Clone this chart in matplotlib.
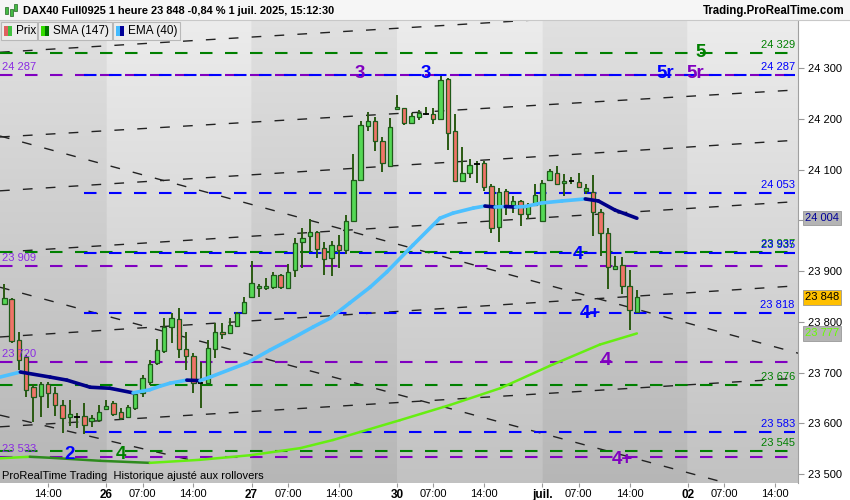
import matplotlib
matplotlib.use("Agg")
import matplotlib.pyplot as plt
import matplotlib.transforms as mtransforms
import numpy as np
from matplotlib.collections import LineCollection
from matplotlib.patches import Rectangle
from matplotlib.ticker import FuncFormatter

plt.rcParams['font.family'] = ['Liberation Sans', 'DejaVu Sans']

# ---- candles (1 hour bars, x = bar number) ----
bar_idx = list(range(2, 90))
opens = [23835, 23844, 23764, 23730, 23672, 23653, 23677, 23659, 23636, 23612,
         23612, 23615, 23604, 23606, 23628, 23640, 23622, 23612, 23631, 23659,
         23681, 23719, 23743, 23790, 23805, 23746, 23733, 23680, 23679, 23746,
         23780, 23778, 23792, 23818, 23849, 23866, 23866, 23868, 23892, 23866,
         23902, 23957, 23969, 23976, 23945, 23926, 23951, 23941, 23999, 24079,
         24186, 24196, 24156, 24107, 24219, 24221, 24191, 24204, 24209, 24209,
         24200, 24278, 24176, 24078, 24093, 24111, 24112, 24067, 23986, 24058,
         24029, 24037, 24012, 24031, 23999, 24080, 24094, 24073, 24078, 24076,
         24057, 24055, 24017, 23974, 23903, 23912, 23870, 23820]
highs = [23874, 23847, 23780, 23734, 23678, 23682, 23682, 23671, 23646, 23645,
         23620, 23640, 23617, 23636, 23646, 23644, 23630, 23636, 23664, 23695,
         23725, 23767, 23807, 23817, 23827, 23779, 23738, 23720, 23765, 23797,
         23798, 23807, 23820, 23848, 23919, 23874, 23886, 23898, 23894, 23914,
         23965, 23984, 24002, 23979, 23958, 23959, 23971, 24010, 24130, 24196,
         24213, 24204, 24165, 24202, 24247, 24222, 24211, 24217, 24223, 24221,
         24284, 24280, 24209, 24145, 24120, 24117, 24117, 24072, 24063, 24061,
         24047, 24039, 24034, 24072, 24079, 24101, 24106, 24091, 24085, 24093,
         24072, 24090, 24022, 23984, 23930, 23927, 23902, 23863]
lows = [23835, 23758, 23705, 23651, 23602, 23613, 23630, 23614, 23581, 23595,
        23590, 23579, 23593, 23603, 23626, 23615, 23607, 23610, 23626, 23652,
        23675, 23715, 23738, 23759, 23728, 23704, 23659, 23630, 23676, 23728,
        23767, 23776, 23790, 23815, 23848, 23848, 23863, 23864, 23865, 23865,
        23888, 23905, 23938, 23926, 23892, 23890, 23905, 23933, 23997, 24077,
        24176, 24136, 24096, 24104, 24217, 24187, 24189, 24198, 24208, 24190,
        24198, 24138, 24075, 24077, 24084, 24073, 24058, 23974, 23958, 24010,
        24014, 23989, 24002, 24030, 23997, 24080, 24070, 24048, 24071, 24063,
        24051, 23969, 23930, 23864, 23901, 23855, 23784, 23818]
closes = [23846, 23762, 23725, 23666, 23651, 23677, 23659, 23636, 23610, 23618,
          23612, 23596, 23610, 23622, 23634, 23619, 23610, 23633, 23657, 23689,
          23717, 23744, 23790, 23807, 23746, 23733, 23679, 23680, 23748, 23779,
          23776, 23794, 23817, 23838, 23876, 23870, 23870, 23892, 23868, 23898,
          23955, 23966, 23976, 23943, 23923, 23951, 23941, 23999, 24079, 24188,
          24196, 24156, 24112, 24183, 24223, 24191, 24205, 24211, 24209, 24200,
          24276, 24171, 24077, 24093, 24109, 24111, 24066, 23984, 24055, 24030,
          24037, 24012, 24031, 24049, 24073, 24098, 24071, 24078, 24078, 24065,
          24064, 24017, 23974, 23907, 23910, 23870, 23823, 23848]

# ---- indicators ----
ema_idx = [1.4, 4.2, 8.3, 10.6, 13.8, 16.5, 19.7, 22.0, 23.4, 24.8, 27.1, 28.9,
           30.3, 35.4, 38.5, 41.7, 44.5, 46.8, 49.5, 52.3, 54.6, 58.2, 61.9,
           63.7, 66.5, 68.1, 69.5, 70.9, 72.3, 73.6, 75.9, 78.7, 81.9, 83.7,
           86.0, 89.0]
ema_val = [23691, 23701, 23691, 23685, 23671, 23669, 23660, 23666, 23673, 23679,
           23685, 23684, 23691, 23719, 23744, 23768, 23790, 23807, 23837, 23868,
           23898, 23951, 24004, 24014, 24024, 24028, 24026, 24027, 24026, 24027,
           24034, 24038, 24042, 24038, 24020, 24004]
sma_idx = [1.4, 5.5, 8.3, 15.2, 22.0, 28.9, 35.8, 42.7, 47.2, 56.4, 63.3, 70.2,
           77.0, 83.9, 89.0]
sma_val = [23531, 23534, 23532, 23526, 23522, 23528, 23537, 23551, 23567, 23606,
           23636, 23669, 23713, 23755, 23777]

# ---- horizontal levels ----
level_vals = [24329, 24287, 24287, 24053, 23937, 23935, 23909, 23818, 23720,
              23676, 23583, 23545, 23533]
level_kind = ['g', 'p', 'b', 'b', 'g', 'b', 'p', 'b', 'p', 'g', 'b', 'g', 'p']

# ---- trend lines: (bar, price) -> (bar, price) ----
trend_lines = [(1.4, 24331, 111.2, 24426), (1.4, 24164, 111.2, 24257),
               (1.4, 24058, 111.2, 24158), (1.4, 23937, 111.2, 24037),
               (1.4, 23770, 111.2, 23871), (1.4, 23593, 111.2, 23689),
               (1.4, 24166, 111.2, 23738), (1.4, 23868, 111.2, 23444),
               (1.4, 23616, 29.0, 23523)]

# ---- wave labels ----
wave_txt = ['3', '3', '5', '5r', '5r', '4', '4+', '4', '4+', '2', '4']
wave_idx = [50.9, 59.9, 97.8, 92.9, 97.0, 80.9, 82.6, 84.8, 87.0, 11.0, 18.0]
wave_val = [24290, 24290, 24331, 24290, 24290, 23933, 23817, 23723, 23528, 23538, 23538]
wave_kind = ['p', 'b', 'g', 'b', 'p', 'b', 'b', 'p', 'p', 'b', 'g']

tick_idx = [8, 16, 21, 28, 36, 41, 48, 56, 61, 68, 76, 81, 88, 96, 101, 108]
tick_lbl = ['14:00', '26', '07:00', '14:00', '27', '07:00', '14:00', '30', '07:00',
            '14:00', 'juil.', '07:00', '14:00', '02', '07:00', '14:00']
day_starts = [16, 36, 56, 76, 96]

COL = {'g': '#008000', 'p': '#8000c0', 'b': '#0000ff'}
GREEN_FILL = '#55d855'
RED_FILL = '#ef7468'
EDGE = '#1f5a1a'

XMIN, XMAX = 1.40, 111.16
YMIN, YMAX = 23482.3, 24392.6

fig = plt.figure(figsize=(8.5, 5), dpi=100)
ax = fig.add_axes([0, 17 / 500, 798 / 850, 462 / 500])
ax.set_xlim(XMIN, XMAX)
ax.set_ylim(YMIN, YMAX)

# background: vertical gradient with alternating day bands
xs = np.linspace(XMIN, XMAX, 800)
grad = np.linspace(0.76, 0.925, 200)[:, None]
band = np.searchsorted(day_starts, xs, side='right') % 2
img = grad - 0.045 * (band == 0)[None, :]
ax.imshow(np.dstack([img, img, img]), extent=[XMIN, XMAX, YMIN, YMAX],
          aspect='auto', origin='lower', zorder=0, interpolation='bilinear')

# trend lines
for x0, y0, x1, y1 in trend_lines:
    ax.plot([x0, x1], [y0, y1], color='#222222', lw=1.0,
            linestyle=(0, (7, 9.5)), zorder=1)

# level lines
blue_start = 13.0
line_end = 110.76
for v, k in zip(level_vals, level_kind):
    start = blue_start if k == 'b' else XMIN
    ax.plot([start, line_end], [v, v], color=COL[k], lw=1.5,
            linestyle=(0, (6, 6)), zorder=2)

# level labels
up = mtransforms.ScaledTranslation(0, 8 / 100, fig.dpi_scale_trans)
tr = mtransforms.blended_transform_factory(ax.transAxes, ax.transData) + up
for v, k in zip(level_vals, level_kind):
    lbl = f"{v:,}".replace(',', ' ')
    if k == 'p':
        ax.text(0.003, v, lbl, transform=tr, color='#8a2be2', fontsize=8,
                ha='left', va='center', zorder=6)
    else:
        ax.text(0.996, v, lbl, transform=tr, color=COL[k], fontsize=8,
                ha='right', va='center', zorder=6)

# candles
for i, o, h, l, c in zip(bar_idx, opens, highs, lows, closes):
    ax.vlines(i, l, h, color='#2a5a12', lw=1.4, zorder=3)
    if o == c:
        ax.hlines(o, i - 0.38, i + 0.38, color='black', lw=1.3, zorder=4)
        continue
    fc = GREEN_FILL if c > o else RED_FILL
    ax.add_patch(Rectangle((i - 0.3, min(o, c)), 0.6, abs(c - o), fc=fc,
                           ec=EDGE, lw=0.9, zorder=4))


def colored_line(xv, yv, up_col, down_col, lw):
    pts = np.column_stack([xv, yv])
    segs = np.stack([pts[:-1], pts[1:]], axis=1)
    cols = [up_col if b >= a else down_col for a, b in zip(yv[:-1], yv[1:])]
    ax.add_collection(LineCollection(segs, colors=cols, linewidths=lw,
                                     capstyle='round', joinstyle='round', zorder=5))


colored_line(sma_idx, sma_val, '#66ee11', '#2e8b1e', 1.8)
colored_line(ema_idx, ema_val, '#4cc0ff', '#000088', 2.6)

# wave labels
for t, i, v, k in zip(wave_txt, wave_idx, wave_val, wave_kind):
    ax.text(i, v, t, color=COL[k], fontsize=13.5, fontweight='bold',
            ha='center', va='center', zorder=7)

ax.text(0.003, 0.016, 'ProRealTime Trading  Historique ajusté aux rollovers',
        transform=ax.transAxes, fontsize=8, color='black', ha='left',
        va='center', zorder=8)

# axes styling
for s in ['top', 'left', 'bottom']:
    ax.spines[s].set_visible(False)
ax.spines['right'].set_color('#a0a0a0')
ax.yaxis.tick_right()
ax.set_yticks(np.arange(23500, 24301, 100))
# the 24 000 label sits under the EMA value box in the original
ax.yaxis.set_major_formatter(FuncFormatter(
    lambda v, p: '' if int(v) == 24000 else f"{int(v):,}".replace(',', ' ')))
ax.tick_params(axis='y', length=4, color='#999999', labelsize=8, pad=3)
ax.set_xticks(tick_idx)
ax.set_xticklabels(tick_lbl)
ax.tick_params(axis='x', length=3, color='#999999', labelsize=8, pad=1)
for lab in ax.get_xticklabels():
    if lab.get_text() in ('26', '27', '30', 'juil.', '02'):
        lab.set_fontweight('bold')
        lab.set_fontsize(8.5)

# value boxes on the right axis
trb = mtransforms.blended_transform_factory(ax.transAxes, ax.transData)
box_vals = [ema_val[-1], closes[-1], sma_val[-1]]
box_fc = ['#b4b4b4', '#ffc000', '#b4b4b4']
box_tc = ['#000099', 'black', '#66ff00']
for v, fc, tc in zip(box_vals, box_fc, box_tc):
    ax.text(1.0088, v, f"{v:,}".replace(',', ' '), transform=trb, fontsize=8,
            color=tc, ha='left', va='center', clip_on=False, zorder=9,
            bbox=dict(boxstyle='square,pad=0.2', fc=fc, ec='#999999', lw=0.6))

# header strip
fig.patches.append(Rectangle((0, 1 - 20 / 500), 1, 20 / 500, transform=fig.transFigure,
                             fc='#f6f6f6', ec='none', zorder=10))
fig.lines.append(plt.Line2D([0, 1], [1 - 20 / 500, 1 - 20 / 500], transform=fig.transFigure,
                            color='#c8c8c8', lw=0.8, zorder=11))
for dx, y0, y1 in [(5, 14, 7), (10, 16, 9), (14, 11, 4)]:
    fig.patches.append(Rectangle((dx / 850, 1 - y0 / 500), 3 / 850, (y0 - y1) / 500,
                                 transform=fig.transFigure, fc='#44bb44', ec='#226622',
                                 lw=0.5, zorder=12))
fig.text(23 / 850, 1 - 11 / 500, 'DAX40 Full0925 1 heure 23 848 -0,84 % 1 juil. 2025, 15:12:30',
         fontsize=7.9, fontweight='bold', ha='left', va='center', zorder=12)
fig.text(845 / 850, 1 - 11 / 500, 'Trading.ProRealTime.com', fontsize=8.3,
         fontweight='bold', ha='right', va='center', zorder=12)

# legend row
legend_items = [('Prix', '#e06060', '#40c040', 1, 37),
                ('SMA (147)', '#33dd00', '#007700', 38, 112),
                ('EMA (40)', '#44bbff', '#000099', 113, 180)]
for name, c1, c2, x0, x1 in legend_items:
    fig.patches.append(Rectangle((x0 / 850, 1 - 40 / 500), (x1 - x0) / 850, 18 / 500,
                                 transform=fig.transFigure, fc='#ececec', ec='#b8b8b8',
                                 lw=0.8, zorder=12))
    fig.patches.append(Rectangle(((x0 + 3) / 850, 1 - 36 / 500), 4 / 850, 10 / 500,
                                 transform=fig.transFigure, fc=c1, ec='none', zorder=13))
    fig.patches.append(Rectangle(((x0 + 7) / 850, 1 - 36 / 500), 4 / 850, 10 / 500,
                                 transform=fig.transFigure, fc=c2, ec='none', zorder=13))
    fig.text((x0 + 15) / 850, 1 - 31 / 500, name, fontsize=8.5, ha='left',
             va='center', zorder=13)

fig.savefig('out.png', dpi=100, facecolor='white')
